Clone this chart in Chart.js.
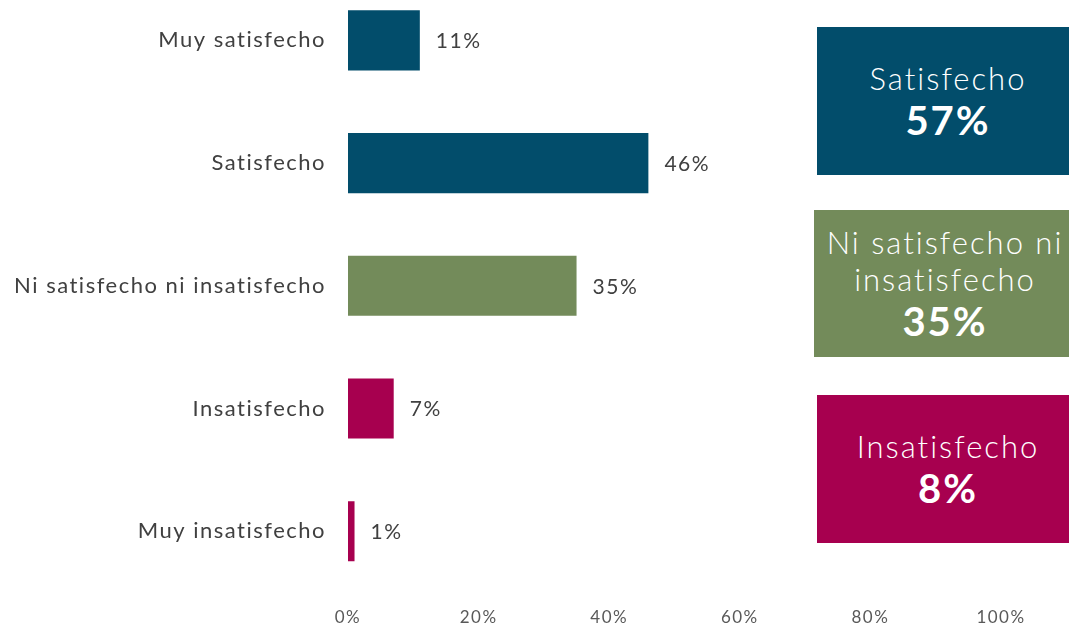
<!DOCTYPE html>
<html>
<head>
<meta charset="utf-8">
<script src="https://cdn.jsdelivr.net/npm/chart.js@4"></script>
<style>
  html, body { margin: 0; padding: 0; background: #ffffff; overflow: hidden; }
  body { width: 1069px; height: 626px; position: relative; font-family: Lato, "Open Sans", sans-serif; }
  #wrap { position: absolute; left: 0; top: -21px; width: 1069px; height: 666px; }
  .box { position: absolute; width: 262px; height: 148px; color: #ffffff;
         display: flex; flex-direction: column; align-items: center; justify-content: center;
         text-align: center; }
  .box .name { font-size: 31px; font-weight: 300; line-height: 37px; letter-spacing: 2px; }
  .box .pct { font-size: 40px; font-weight: 700; line-height: 46px; letter-spacing: 2px; }
</style>
</head>
<body>
<div id="wrap"><canvas id="chart" width="1069" height="666"></canvas></div>
<div id="boxes"></div>
<script>
// Satisfaction levels and their shares (%)
const categories = ['Muy satisfecho', 'Satisfecho', 'Ni satisfecho ni insatisfecho', 'Insatisfecho', 'Muy insatisfecho'];
const values = [11, 46, 35, 7, 1];
const xTicks = [0, 20, 40, 60, 80, 100];

// Summary groups: which levels add up to each headline figure
const summaryLines = [['Satisfecho'], ['Ni satisfecho ni', 'insatisfecho'], ['Insatisfecho']];
const summaryMembers = [[0, 1], [2], [3, 4]];

// Styling
const FONT = 'Lato, "Open Sans", sans-serif';
const TEAL = '#024D6B', GREEN = '#738B5A', MAGENTA = '#A7004F';
const barColors = [TEAL, TEAL, GREEN, MAGENTA, MAGENTA];
const boxColors = [TEAL, GREEN, MAGENTA];
const boxPlacement = [{ left: 817, top: 27, height: 148 }, { left: 814, top: 210, height: 147 }, { left: 817, top: 395, height: 148 }];

// Slightly wider tracking for all canvas text
const tracking = {
  id: 'tracking',
  beforeDraw(chart) { chart.ctx.letterSpacing = '1.5px'; }
};

// Value labels to the right of each bar
const valueLabels = {
  id: 'valueLabels',
  afterDatasetsDraw(chart) {
    const ctx = chart.ctx;
    const meta = chart.getDatasetMeta(0);
    ctx.save();
    ctx.letterSpacing = '1.5px';
    ctx.font = '400 21px ' + FONT;
    ctx.fillStyle = '#404040';
    ctx.textAlign = 'left';
    ctx.textBaseline = 'middle';
    meta.data.forEach((bar, i) => {
      ctx.fillText(values[i] + '%', bar.x + 16, bar.y + 1);
    });
    ctx.restore();
  }
};

new Chart(document.getElementById('chart'), {
  type: 'bar',
  data: {
    labels: categories,
    datasets: [{
      data: values,
      backgroundColor: barColors,
      borderWidth: 0,
      barPercentage: 0.49,
      categoryPercentage: 1.0
    }]
  },
  options: {
    indexAxis: 'y',
    responsive: false,
    animation: false,
    devicePixelRatio: 1,
    layout: { padding: { left: 0, right: 68, top: 0, bottom: 2 } },
    plugins: { legend: { display: false }, tooltip: { enabled: false } },
    scales: {
      x: {
        min: 0, max: 100,
        afterBuildTicks(scale) { scale.ticks = xTicks.map(v => ({ value: v })); },
        grid: { display: false, drawTicks: false },
        border: { display: false },
        ticks: {
          padding: 15,
          color: '#595959',
          font: { family: FONT, size: 17 },
          callback: v => v + '%',
          maxRotation: 0
        }
      },
      y: {
        afterFit(scale) {
          scale.width = 348;
          scale.paddingTop = 0;
          scale.paddingBottom = 0;
        },
        grid: { display: false, drawTicks: false },
        border: { display: false },
        ticks: {
          padding: 22,
          color: '#404040',
          font: { family: FONT, size: 22 }
        }
      }
    }
  },
  plugins: [tracking, valueLabels]
});

// Headline boxes on the right
const boxes = document.getElementById('boxes');
summaryLines.forEach((lines, g) => {
  const total = summaryMembers[g].reduce((s, i) => s + values[i], 0);
  const el = document.createElement('div');
  el.className = 'box';
  el.style.background = boxColors[g];
  el.style.left = boxPlacement[g].left + 'px';
  el.style.top = boxPlacement[g].top + 'px';
  el.style.height = boxPlacement[g].height + 'px';
  lines.forEach(t => {
    const d = document.createElement('div');
    d.className = 'name';
    d.textContent = t;
    el.appendChild(d);
  });
  const p = document.createElement('div');
  p.className = 'pct';
  p.textContent = total + '%';
  el.appendChild(p);
  boxes.appendChild(el);
});
</script>
</body>
</html>
